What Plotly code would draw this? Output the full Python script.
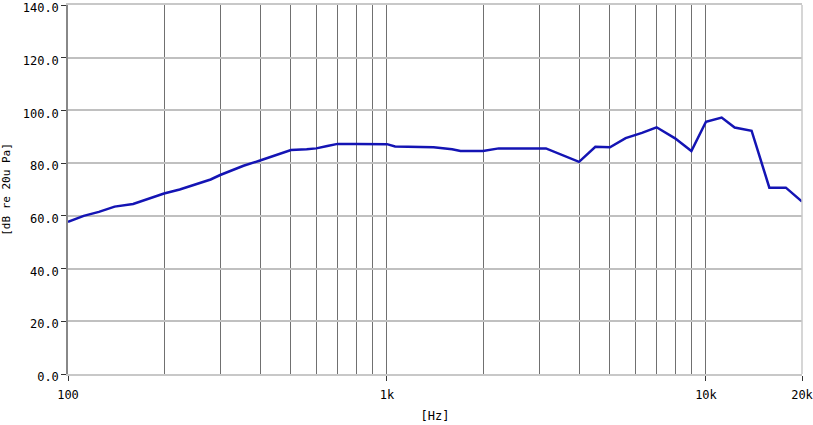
import plotly.graph_objects as go

freqs = [100, 112, 125, 140, 160, 180, 200, 224, 250, 280, 300, 355, 400, 450, 500, 560, 600,
         650, 700, 800, 900, 1000, 1060, 1400, 1600, 1700, 2000, 2240, 3150, 4000, 4500, 5000,
         5600, 6300, 7000, 8000, 9000, 10000, 11200, 12300, 13900, 15800, 17800, 20000]
levels = [57.7, 60.0, 61.5, 63.5, 64.5, 66.5, 68.5, 70.0, 72.0, 73.8, 75.5, 79.0, 81.0, 83.0, 85.0,
          85.3, 85.6, 86.5, 87.3, 87.3, 87.3, 87.2, 86.3, 86.0, 85.3, 84.6, 84.6, 85.6, 85.6, 80.5,
          86.2, 86.0, 89.5, 91.5, 93.6, 89.4, 84.6, 95.7, 97.3, 93.5, 92.3, 70.7, 70.7, 65.4]

grid_freqs = [200, 300, 400, 500, 600, 700, 800, 900, 1000,
              2000, 3000, 4000, 5000, 6000, 7000, 8000, 9000, 10000]
xtick_vals = [100, 1000, 10000, 20000]
xtick_text = ["100", "1k", "10k", "20k"]
ytick_vals = [0, 20, 40, 60, 80, 100, 120, 140]

font = "DejaVu Sans Mono, Liberation Mono, monospace"

fig = go.Figure()
fig.add_trace(go.Scatter(x=freqs, y=levels, mode="lines",
                         line=dict(color="#1414b4", width=2.5), showlegend=False))

fig.update_layout(
    width=813, height=425,
    margin=dict(l=68, r=11, t=5, b=51),
    paper_bgcolor="white", plot_bgcolor="white",
    font=dict(family=font, size=12, color="black"),
    shapes=[dict(type="line", xref="paper", yref="paper", x0=1, x1=1, y0=0, y1=1,
                 line=dict(color="#c8c8c8", width=1.5), layer="above")],
)
fig.update_xaxes(
    type="log", range=[2, 4.30104],
    tickvals=xtick_vals, ticktext=xtick_text,
    ticks="outside", ticklen=5, tickcolor="#333", tickwidth=1,
    showgrid=False, zeroline=False, automargin=False, ticklabeloverflow="allow",
    ticklabelstandoff=4,
    showline=True, linecolor="#c8c8c8", linewidth=1.5, mirror=True,
    minor=dict(tickvals=grid_freqs, showgrid=True, gridcolor="#707070", gridwidth=1, ticks=""),
    title=dict(text="[Hz]", font=dict(family=font, size=12), standoff=10),
    tickfont=dict(family=font, size=12),
)
fig.update_yaxes(
    range=[0, 140.0001], tickvals=ytick_vals, tickformat=".1f",
    ticks="outside", ticklen=5, tickcolor="#333", tickwidth=1,
    showgrid=True, gridcolor="#c0c0c0", gridwidth=1.5, zeroline=False,
    automargin=False, ticklabeloverflow="allow", ticklabelshift=3,
    showline=True, linecolor="#888888", linewidth=1.5,
    title=dict(text="[dB re 20u Pa]", font=dict(family=font, size=11), standoff=12),
    tickfont=dict(family=font, size=12),
)

fig.write_html("out.html", post_script="document.body.style.margin='0';",
               config={"displayModeBar": False})
